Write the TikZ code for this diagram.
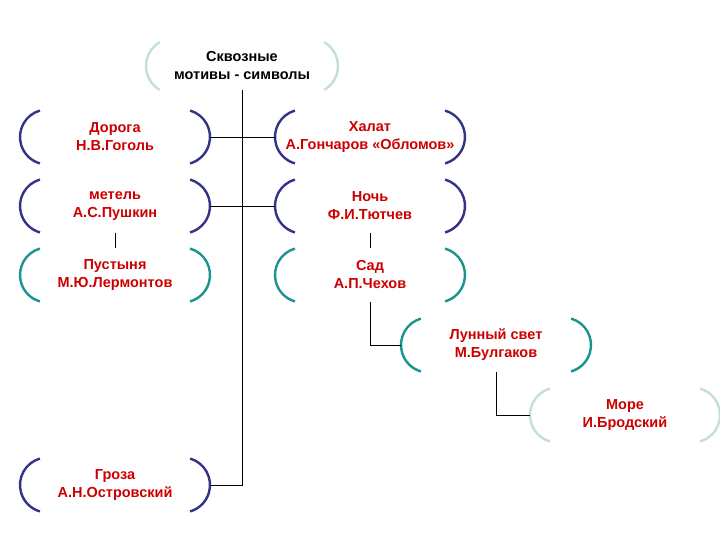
\documentclass[tikz,border=0pt]{standalone}
\usepackage{fontspec}
\setmainfont{Liberation Sans}
\definecolor{navy}{HTML}{333388}
\definecolor{sea}{HTML}{1A9490}
\definecolor{mist}{HTML}{C4DEDC}
\definecolor{ink}{HTML}{CC0000}
\tikzset{
	motif/.style = {align = center, text = ink, minimum width = 190, minimum height = 53,
		inner sep = 0pt, font = \fontsize{14.5}{18}\selectfont\bfseries},
	link/.style = {line width = 0.9pt}
}
% two arcs round a node: ( ... )
\newcommand{\brk}[2]{%
	\draw [#2, line width = 2.4pt] ([xshift = -67.5pt]#1.center) ++(106:27.5pt) arc (106:254:27.5pt);
	\draw [#2, line width = 2.4pt] ([xshift = 67.5pt]#1.center) ++(74:27.5pt) arc (74:-74:27.5pt);}

\begin{document}
\begin{tikzpicture}[x = 1pt, y = -1pt]
		\useasboundingbox (0, 0) rectangle (720, 540);
		%%%%%%%%%%%%%
		\node [motif, text = black, minimum height = 48] (top) at (242, 66) {Сквозные\\мотивы - символы};
		\node [motif] (doroga) at (115, 137) {Дорога\\Н.В.Гоголь};
		\node [motif] (halat) at (370, 137) {Халат\\А.Гончаров «Обломов»};
		\node [motif] (metel) at (115, 206) {метель\\А.С.Пушкин};
		\node [motif] (noch) at (370, 206) {Ночь\\Ф.И.Тютчев};
		\node [motif] (pust) at (115, 275) {Пустыня\\М.Ю.Лермонтов};
		\node [motif] (sad) at (370, 275) {Сад\\А.П.Чехов};
		\node [motif] (luna) at (496, 345) {Лунный свет\\М.Булгаков};
		\node [motif] (more) at (625, 415) {Море\\И.Бродский};
		\node [motif] (groza) at (115, 485) {Гроза\\А.Н.Островский};
		%%%%%%%%%%%%%
		\draw [mist, line width = 2.4pt] ([xshift = -68.4pt]top.center) ++(120:27.6pt) arc (120:240:27.6pt);
		\draw [mist, line width = 2.4pt] ([xshift = 68.4pt]top.center) ++(60:27.6pt) arc (60:-60:27.6pt);
		\brk{doroga}{navy} \brk{halat}{navy}
		\brk{metel}{navy} \brk{noch}{navy}
		\brk{pust}{sea} \brk{sad}{sea}
		\brk{luna}{sea} \brk{more}{mist}
		\brk{groza}{navy}
		%%%%%%%%%%%%%
		\draw [link] (top.south) to (top.south |- groza.east) to (groza.east);
		\draw [link] (doroga.east) to (halat.west);
		\draw [link] (metel.east) to (noch.west);
		\draw [link] (metel.south) to (pust.north);
		\draw [link] (noch.south) to (sad.north);
		\draw [link] (sad.south) |- (luna.west);
		\draw [link] (luna.south) |- (more.west);
\end{tikzpicture}
\end{document}
